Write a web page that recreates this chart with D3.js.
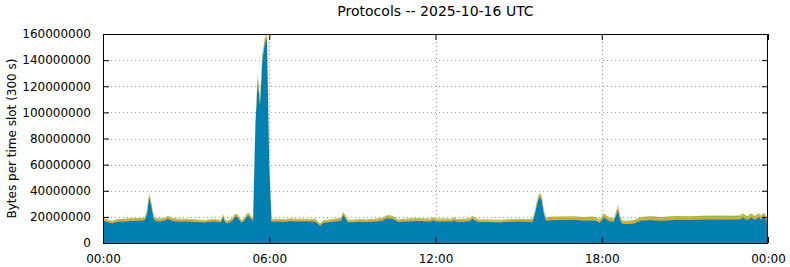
<!DOCTYPE html>
<html>
<head>
<meta charset="utf-8">
<script src="https://cdn.jsdelivr.net/npm/d3@7"></script>
<style>
  body { margin: 0; background: #fff; }
  svg { display: block; font-family: "DejaVu Sans", sans-serif; }
</style>
</head>
<body>
<div id="chart"></div>
<script>
"use strict";

// Time of each sample, minutes after 00:00 UTC
const slotMinutes = [
  0,10,20,30,45,60,75,90,95,100,
  105,110,115,125,135,140,150,165,180,200,
  220,240,255,260,265,270,280,285,290,295,
  300,305,310,315,320,325,330,335,340,345,
  350,355,360,365,375,390,405,420,440,460,
  470,475,480,490,505,515,520,525,530,540,
  555,570,590,605,615,625,640,660,680,700,
  710,715,720,735,755,760,765,780,795,800,
  805,815,835,860,880,900,920,930,935,940,
  945,950,955,960,965,980,1000,1020,1040,1060,
  1070,1075,1085,1095,1105,1110,1115,1120,1125,1135,
  1150,1165,1185,1210,1240,1270,1300,1330,1360,1380,
  1385,1395,1405,1410,1415,1420,1425,1430,1435,1440
];

// Bytes per slot, in millions, one array per protocol (bottom to top)
const proto1 = [
  17.2,16.0,15.2,16.2,16.6,16.8,17.0,17.4,22.0,35.5,
  28.0,18.5,16.8,16.6,17.4,18.6,17.0,16.4,16.6,16.0,
  15.8,16.4,15.8,20.0,15.6,15.2,17.2,19.8,20.2,18.0,
  15.6,16.8,19.6,21.0,18.8,17.2,90.0,125.0,106.0,140.0,
  152.0,157.0,60.0,16.4,16.6,16.2,16.8,16.4,16.6,16.2,
  13.2,15.0,15.6,16.0,16.6,17.0,21.6,19.2,16.0,15.8,
  16.2,16.0,16.4,17.2,19.0,18.8,16.0,16.6,16.8,16.6,
  16.4,17.6,16.4,16.6,16.4,17.4,16.4,16.2,17.0,18.6,
  17.2,16.0,16.0,15.8,16.2,16.4,16.2,16.4,22.0,30.0,
  35.6,33.0,22.0,16.8,17.4,17.6,17.6,17.8,17.2,17.4,
  16.8,15.4,19.6,17.0,16.2,20.0,25.8,17.6,14.8,14.6,
  15.0,17.2,17.6,17.0,17.8,17.6,18.0,18.2,18.0,18.2,
  19.6,17.6,19.8,17.8,18.6,19.8,18.0,20.2,18.6,14.4
];
const proto2 = [
  0.4,0.4,0.3,0.4,0.4,0.4,0.4,0.4,0.5,0.6,
  0.5,0.4,0.4,0.4,0.4,0.5,0.4,0.4,0.4,0.4,
  0.4,0.4,0.4,0.5,0.4,0.4,0.4,0.5,0.5,0.4,
  0.4,0.4,0.5,0.5,0.4,0.4,1.0,1.2,1.0,1.2,
  1.2,1.0,0.8,0.4,0.4,0.4,0.4,0.4,0.4,0.4,
  0.4,0.4,0.4,0.4,0.4,0.4,0.5,0.4,0.4,0.4,
  0.4,0.4,0.4,0.4,0.5,0.5,0.4,0.4,0.4,0.4,
  0.4,0.5,0.4,0.4,0.4,0.4,0.4,0.4,0.4,0.5,
  0.4,0.4,0.4,0.4,0.4,0.4,0.4,0.4,0.5,0.6,
  0.6,0.6,0.5,0.4,0.4,0.4,0.4,0.4,0.4,0.4,
  0.4,0.4,0.5,0.4,0.4,0.5,0.6,0.4,0.4,0.4,
  0.4,0.4,0.4,0.4,0.4,0.4,0.4,0.4,0.4,0.4,
  0.4,0.4,0.4,0.4,0.4,0.4,0.4,0.4,0.4,0.4
];
const proto3 = [
  1.1,1.1,1.0,1.1,1.1,1.2,1.2,1.2,1.3,1.4,
  1.3,1.2,1.2,1.2,1.2,1.3,1.2,1.2,1.1,1.1,
  1.1,1.1,1.1,1.2,1.1,1.1,1.1,1.2,1.2,1.1,
  1.1,1.2,1.2,1.3,1.2,1.2,2.0,2.2,2.0,2.2,
  2.0,1.8,1.5,1.1,1.1,1.1,1.1,1.2,1.1,1.1,
  1.1,1.1,1.1,1.1,1.2,1.2,1.3,1.2,1.1,1.1,
  1.1,1.1,1.2,1.2,1.2,1.2,1.1,1.2,1.2,1.2,
  1.2,1.2,1.2,1.2,1.2,1.2,1.2,1.1,1.2,1.3,
  1.2,1.1,1.1,1.1,1.1,1.2,1.2,1.2,1.3,1.4,
  1.4,1.4,1.3,1.3,1.3,1.3,1.3,1.3,1.3,1.3,
  1.3,1.2,1.4,1.3,1.2,1.3,1.4,1.3,1.2,1.2,
  1.2,1.2,1.3,1.3,1.3,1.3,1.3,1.3,1.3,1.3,
  1.3,1.3,1.3,1.3,1.3,1.3,1.3,1.3,1.3,1.2
];
const proto4 = [
  0.5,0.5,0.4,0.4,0.5,0.5,0.5,0.5,0.6,0.8,
  0.6,0.5,0.5,0.5,0.5,0.6,0.5,0.5,0.4,0.4,
  0.4,0.4,0.4,0.5,0.4,0.4,0.4,0.5,0.5,0.4,
  0.4,0.4,0.5,0.5,0.5,0.4,0.8,1.0,0.8,1.0,
  1.0,0.8,0.6,0.5,0.5,0.5,0.5,0.5,0.5,0.5,
  0.4,0.4,0.5,0.5,0.5,0.5,0.6,0.5,0.5,0.5,
  0.5,0.5,0.5,0.6,0.6,0.6,0.5,0.5,0.6,0.6,
  0.6,0.7,0.6,0.6,0.6,0.7,0.6,0.6,0.6,0.7,
  0.6,0.5,0.5,0.5,0.5,0.6,0.6,0.6,0.7,0.8,
  0.9,0.9,0.8,0.9,1.0,1.0,1.0,1.0,1.1,1.1,
  1.0,0.9,1.1,1.0,0.9,1.0,1.1,1.0,0.9,0.9,
  1.0,1.1,1.1,1.2,1.1,1.2,1.2,1.2,1.2,1.2,
  1.3,1.2,1.3,1.2,1.2,1.3,1.2,1.3,1.2,1.0
];

const layerColors = ["#0080b0", "#6f7a34", "#e0a010", "#94ba40"];
const yTicks = [0, 20000000, 40000000, 60000000, 80000000, 100000000, 120000000, 140000000, 160000000];
const xTicks = [0, 360, 720, 1080, 1440];
const xTickLabels = ["00:00", "06:00", "12:00", "18:00", "00:00"];

const width = 790, height = 267;
const margin = {left: 103, right: 22, top: 34, bottom: 24};

// build rows for d3.stack
const rows = slotMinutes.map((t, i) => ({
    t: t,
    p1: proto1[i] * 1e6,
    p2: proto2[i] * 1e6,
    p3: proto3[i] * 1e6,
    p4: proto4[i] * 1e6
}));
const keys = ["p1", "p2", "p3", "p4"];
const series = d3.stack().keys(keys)(rows);

const x = d3.scaleLinear([0, 1440], [margin.left, width - margin.right]);
const y = d3.scaleLinear([0, 160000000], [height - margin.bottom, margin.top]);

const svg = d3.select("#chart").append("svg")
    .attr("width", width)
    .attr("height", height)
    .attr("viewBox", [0, 0, width, height]);

// grid
const grid = svg.append("g")
    .attr("stroke", "#a0a0a0")
    .attr("stroke-width", 1)
    .attr("stroke-dasharray", "1,3");
grid.selectAll(".gy")
    .data(yTicks.slice(1, -1))
    .join("line")
    .attr("x1", margin.left).attr("x2", width - margin.right)
    .attr("y1", d => Math.round(y(d)) + 0.5).attr("y2", d => Math.round(y(d)) + 0.5);
grid.selectAll(".gx")
    .data(xTicks.slice(1, -1))
    .join("line")
    .attr("y1", margin.top).attr("y2", height - margin.bottom)
    .attr("x1", d => Math.round(x(d)) + 0.5).attr("x2", d => Math.round(x(d)) + 0.5);

svg.append("clipPath").attr("id", "plotclip")
    .append("rect")
    .attr("x", margin.left).attr("y", margin.top)
    .attr("width", width - margin.left - margin.right)
    .attr("height", height - margin.top - margin.bottom);

const area = d3.area()
    .x(d => x(d.data.t))
    .y0(d => y(d[0]))
    .y1(d => y(d[1]));

svg.append("g")
    .attr("clip-path", "url(#plotclip)")
    .selectAll("path")
    .data(series)
    .join("path")
    .attr("fill", (d, i) => layerColors[i])
    .attr("d", area);

// axes, gnuplot-ish: ticks inward on all four sides
const tickLen = 6;
svg.append("g")
    .attr("transform", `translate(${margin.left},0)`)
    .call(d3.axisLeft(y).tickValues(yTicks).tickFormat(d3.format("d")).tickSizeInner(-tickLen).tickSizeOuter(0).tickPadding(tickLen + 6))
    .call(g => g.select(".domain").remove())
    .call(g => g.selectAll("text").attr("font-size", 12).attr("fill", "#000").attr("font-family", "DejaVu Sans"));

svg.append("g")
    .attr("transform", `translate(${width - margin.right},0)`)
    .call(d3.axisRight(y).tickValues(yTicks).tickFormat("").tickSizeInner(-tickLen).tickSizeOuter(0))
    .call(g => g.select(".domain").remove());

svg.append("g")
    .attr("transform", `translate(0,${height - margin.bottom})`)
    .call(d3.axisBottom(x).tickValues(xTicks).tickFormat((d, i) => xTickLabels[i]).tickSizeInner(-tickLen).tickSizeOuter(0).tickPadding(tickLen + 5))
    .call(g => g.select(".domain").remove())
    .call(g => g.selectAll("text").attr("font-size", 12).attr("fill", "#000").attr("font-family", "DejaVu Sans"));

svg.append("g")
    .attr("transform", `translate(0,${margin.top})`)
    .call(d3.axisTop(x).tickValues(xTicks).tickFormat("").tickSizeInner(-tickLen).tickSizeOuter(0))
    .call(g => g.select(".domain").remove());

svg.selectAll(".tick line").attr("stroke", "#000");

// frame
svg.append("rect")
    .attr("x", margin.left + 0.5).attr("y", margin.top + 0.5)
    .attr("width", width - margin.left - margin.right - 1)
    .attr("height", height - margin.top - margin.bottom)
    .attr("fill", "none")
    .attr("stroke", "#000")
    .attr("stroke-width", 1);

svg.append("text")
    .attr("x", (margin.left + width - margin.right) / 2)
    .attr("y", 16)
    .attr("text-anchor", "middle")
    .attr("font-size", 14)
    .text("Protocols -- 2025-10-16 UTC");

svg.append("text")
    .attr("transform", `translate(16,${(margin.top + height - margin.bottom) / 2}) rotate(-90)`)
    .attr("text-anchor", "middle")
    .attr("font-size", 12)
    .text("Bytes per time slot (300 s)");
</script>
</body>
</html>
